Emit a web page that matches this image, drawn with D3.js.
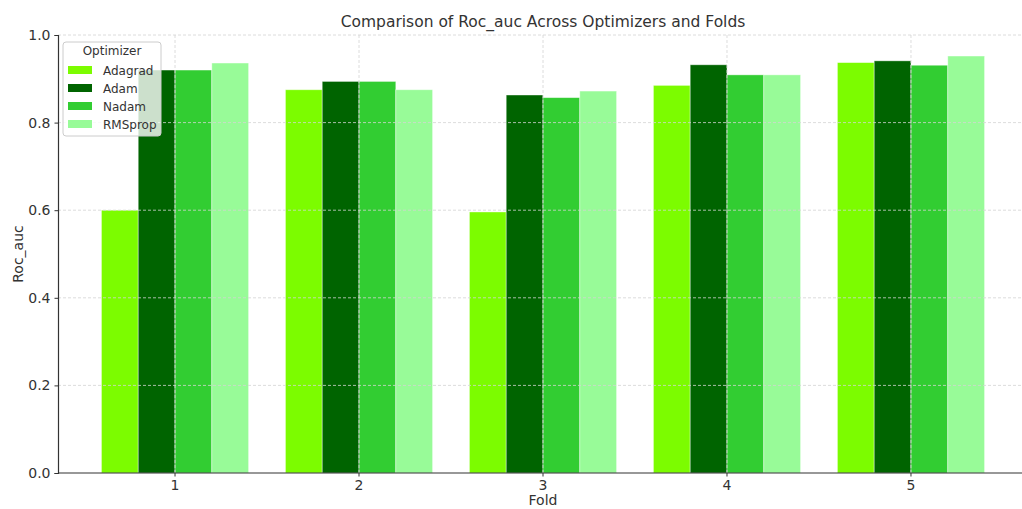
<!DOCTYPE html>
<html>
<head>
<meta charset="utf-8">
<script src="https://cdn.jsdelivr.net/npm/d3@7"></script>
<style>
  body { margin: 0; background: #fff; }
  text { font-family: "DejaVu Sans", sans-serif; fill: #333; }
</style>
</head>
<body>
<svg id="chart" width="1022" height="509"></svg>
<script>
// data
const folds = ["1", "2", "3", "4", "5"];
const optimizers = ["Adagrad", "Adam", "Nadam", "RMSprop"];
const colors = ["#7CFC00", "#006400", "#32CD32", "#98FB98"];
const adagrad = [0.600, 0.875, 0.596, 0.885, 0.937];
const adam    = [0.920, 0.894, 0.863, 0.932, 0.941];
const nadam   = [0.920, 0.894, 0.857, 0.909, 0.931];
const rmsprop = [0.936, 0.875, 0.872, 0.909, 0.952];
const yTicks = [0, 0.2, 0.4, 0.6, 0.8, 1.0];

const series = [adagrad, adam, nadam, rmsprop];
const rows = [];
folds.forEach((f, i) => optimizers.forEach((o, j) => rows.push({ fold: f, opt: o, value: series[j][i] })));

const width = 1022, height = 509;
const margin = { top: 35, right: -6, bottom: 36, left: 58 };
const svg = d3.select("#chart");

const x = d3.scaleBand().domain(folds)
    .range([margin.left, width - margin.right])
    .paddingInner(0).paddingOuter(0.136);
const xSub = d3.scaleBand().domain(optimizers).range([0, x.bandwidth() * 0.8]);
const y = d3.scaleLinear().domain([0, 1]).range([height - margin.bottom, margin.top]);
const color = d3.scaleOrdinal().domain(optimizers).range(colors);

// barre
svg.append("g").selectAll("rect")
    .data(rows)
    .join("rect")
    .attr("x", d => x(d.fold) + x.bandwidth() * 0.1 + xSub(d.opt))
    .attr("y", d => y(d.value))
    .attr("width", xSub.bandwidth())
    .attr("height", d => y(0) - y(d.value))
    .attr("fill", d => color(d.opt))
    .attr("stroke", "#fff").attr("stroke-opacity", 0.5).attr("stroke-width", 0.8);

// griglia sopra le barre
const grid = svg.append("g").attr("stroke", "#d3d3d3").attr("stroke-width", 0.8).attr("stroke-dasharray", "3,2");
grid.selectAll(".gy").data(yTicks.slice(1)).join("line")
    .attr("x1", margin.left).attr("x2", width)
    .attr("y1", d => y(d)).attr("y2", d => y(d));
grid.selectAll(".gx").data(folds).join("line")
    .attr("x1", d => x(d) + x.bandwidth() / 2).attr("x2", d => x(d) + x.bandwidth() / 2)
    .attr("y1", margin.top).attr("y2", y(0));

// assi
const gX = svg.append("g").attr("transform", `translate(0,${y(0)})`)
    .call(d3.axisBottom(x).tickSize(3.5).tickPadding(4));
const gY = svg.append("g").attr("transform", `translate(${margin.left},0)`)
    .call(d3.axisLeft(y).tickValues(yTicks).tickFormat(d3.format(".1f")).tickSize(3.5).tickPadding(4));
[gX, gY].forEach(g => {
    g.select(".domain").attr("stroke", "#333").attr("stroke-width", 1.2);
    g.selectAll(".tick line").attr("stroke", "#333");
    g.selectAll(".tick text").style("font-size", "14px").attr("fill", "#333");
    g.attr("font-family", null);
});
gX.select(".domain").attr("d", `M${margin.left},0H${width}`);

// titoli
svg.append("text").attr("x", 543).attr("y", 27).attr("text-anchor", "middle")
    .style("font-size", "15.5px").text("Comparison of Roc_auc Across Optimizers and Folds");
svg.append("text").attr("x", 543).attr("y", 505).attr("text-anchor", "middle")
    .style("font-size", "14px").text("Fold");
svg.append("text").attr("transform", `translate(23,${(y(0) + y(1)) / 2}) rotate(-90)`)
    .attr("text-anchor", "middle").style("font-size", "14px").text("Roc_auc");

// legenda
const legend = svg.append("g").attr("transform", "translate(63,42)");
legend.append("rect").attr("width", 98).attr("height", 94).attr("rx", 3)
    .attr("fill", "#fff").attr("fill-opacity", 0.8).attr("stroke", "#ccc");
legend.append("text").attr("x", 49).attr("y", 13).attr("text-anchor", "middle")
    .style("font-size", "12px").text("Optimizer");
const items = legend.selectAll(".legend-item").data(optimizers).join("g")
    .attr("class", "legend-item")
    .attr("transform", (d, i) => `translate(5,${24 + i * 18})`);
items.append("rect").attr("width", 24).attr("height", 8).attr("fill", d => color(d));
items.append("text").attr("x", 35).attr("y", 8.5).style("font-size", "12px").text(d => d);
</script>
</body>
</html>
